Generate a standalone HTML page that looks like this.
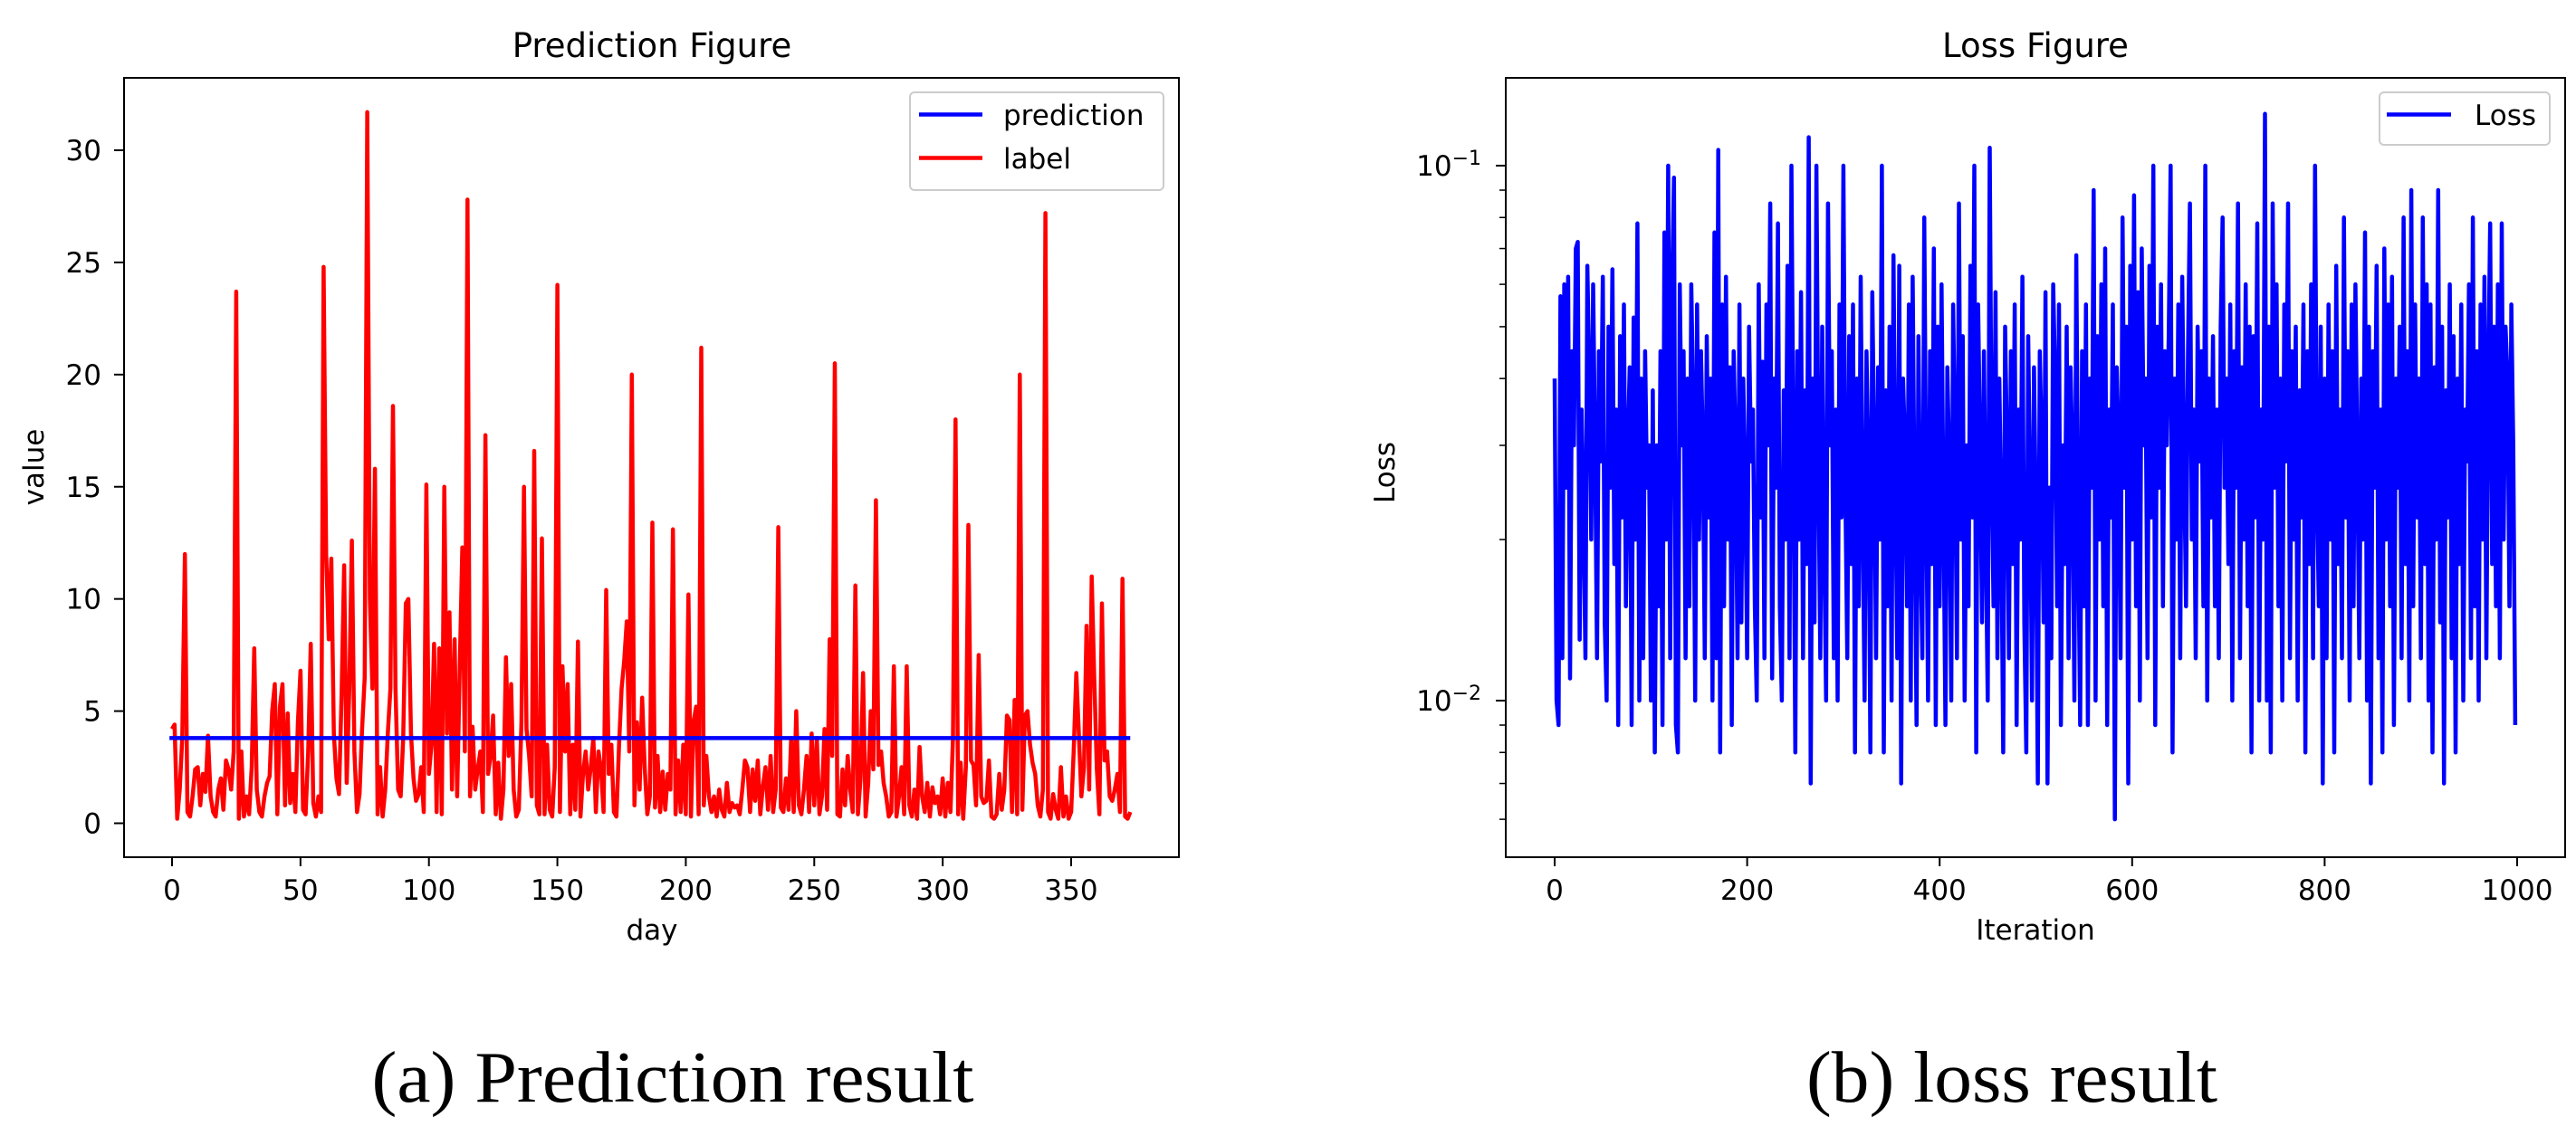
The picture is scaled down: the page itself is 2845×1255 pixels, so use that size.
<!DOCTYPE html>
<html><head><meta charset="utf-8"><style>
html,body{margin:0;padding:0;background:#fff;overflow:hidden;}
svg{display:block;}
text{font-family:"DejaVu Sans","Liberation Sans",sans-serif;fill:#000;}
.cap{font-family:"Liberation Serif",serif;font-size:80px;}
</style></head><body>
<svg id="fig" width="2845" height="1255" viewBox="0 0 2845 1255" xmlns="http://www.w3.org/2000/svg">
<g id="left"></g>
<g id="right"></g>
<text class="cap" x="743" y="1217" text-anchor="middle" textLength="665" lengthAdjust="spacingAndGlyphs">(a) Prediction result</text>
<text class="cap" x="2222" y="1217" text-anchor="middle" textLength="454" lengthAdjust="spacingAndGlyphs">(b) loss result</text>
</svg>
<script>
const labelValues = [4.2,4.4,0.2,1.5,3.8,12,0.5,0.3,1.2,2.4,2.5,0.8,2.2,1.4,3.9,1.2,0.5,0.3,1.5,2,
0.6,2.8,2.4,1.5,3.2,23.7,0.2,3.2,0.3,1.2,0.4,2.5,7.8,1.5,0.5,0.3,1.2,1.8,2.1,5,
6.2,0.4,5.2,6.2,0.8,4.9,0.9,2.2,0.5,4.5,6.8,0.6,0.4,3.2,8,0.9,0.3,1.2,0.5,24.8,
12,8.2,11.8,4,2,1.3,5.8,11.5,1.8,6,12.6,3.2,0.5,1.3,4.2,6.5,31.7,10,6,15.8,
0.4,2.5,0.3,1.5,4,6,18.6,6,1.5,1.2,3.8,9.8,10,4,2,1,1.3,2.5,0.5,15.1,
2.2,3.5,8,0.5,7.8,0.4,15,4,9.4,1.5,8.2,1.2,7,12.3,3.2,27.8,1.2,4.3,1.5,2.4,
3.2,0.5,17.3,2.2,3,4.8,0.4,2.7,0.2,1.5,7.4,3,6.2,1.5,0.3,0.6,4.5,15,4.2,3,
1.2,16.6,0.8,0.4,12.7,0.4,3.5,0.6,0.3,2.5,24,0.5,7,3.2,6.2,0.4,3.5,0.6,8.1,0.3,
2.2,3.2,1.5,2.5,3.8,0.5,3.2,2.4,0.5,10.4,2.2,3.5,0.5,0.3,3.5,6,7.2,9,3.2,20,
0.8,4.5,1.5,5.6,2.5,0.4,1.2,13.4,0.7,3,0.5,2.3,0.6,2.2,1.5,13.1,0.4,2.8,0.5,3.5,
0.4,10.2,0.3,4.5,5.2,0.4,21.2,0.8,3,1.2,0.5,1.2,0.3,1.5,0.6,0.3,1.8,0.5,0.9,0.7,
0.8,0.4,1.5,2.8,2.5,0.5,2.4,1,2.8,0.4,1.6,2.5,0.6,3,0.5,1.5,13.2,0.7,0.5,2,
0.6,3.8,0.5,5,0.8,0.4,1.5,3,0.5,4,0.8,3.8,0.4,1.2,4.2,0.6,8.2,3,20.5,0.4,
0.3,2.4,0.8,3,1.5,0.5,10.6,0.4,2,6.7,0.3,1.8,5,2.4,14.4,2.6,3.2,1.8,1.2,0.3,
0.5,7,0.3,1.2,2.5,0.4,7,0.8,0.3,1.5,0.2,3.4,1.2,0.5,1.8,0.3,1.6,0.9,1.2,0.4,
2,0.3,1.8,0.5,3.8,18,0.4,2.7,0.2,2.5,13.3,2.8,2.6,0.8,7.5,1.2,0.9,1,2.8,0.3,
0.2,0.4,2.2,0.6,1.5,4.8,4.6,0.5,5.5,0.4,20,0.6,4.8,5,3.5,2.7,2.2,0.8,0.3,1.5,
27.2,0.5,0.2,1.3,0.6,0.2,2.5,0.3,1.2,0.2,0.5,3.2,6.7,4,1.2,2.5,8.8,1.5,11,6.5,
2.4,0.4,9.8,2.8,3.2,1.2,1,1.5,2.2,0.5,10.9,0.3,0.2,0.5];
const predictionValue = 3.8;
const leftXTicks = [0,50,100,150,200,250,300,350];
const leftYTicks = [0,5,10,15,20,25,30];
const lossMilli = [40,10,9,57,12,60,25,62,11,45,30,70,72,13,35,22,12,65,40,20,60,30,12,45,28,
62,14,10,50,25,64,18,35,9,48,22,55,15,30,42,9,52,20,78,10,40,12,45,25,30,
10,38,8,30,15,45,9,75,20,100,12,60,95,9,8,60,30,45,12,40,15,60,35,10,55,
20,45,30,12,48,22,40,10,75,12,107,8,55,15,62,20,42,9,45,30,12,55,14,40,25,
12,50,28,35,15,10,60,22,43,12,55,30,85,11,40,25,78,15,10,38,20,65,12,100,30,
8,45,20,58,12,38,18,113,7,40,14,100,28,12,50,20,10,85,30,45,12,35,10,55,22,
100,25,12,48,18,55,8,40,15,62,22,10,45,28,8,58,30,12,42,20,100,8,38,15,50,
10,68,25,12,65,7,40,30,15,55,10,62,22,9,48,20,12,80,25,10,45,18,70,9,50,
15,60,22,9,42,28,10,55,30,12,85,20,48,10,30,15,65,22,100,8,55,30,14,45,20,
10,108,28,15,58,12,40,22,8,50,30,12,45,18,55,9,35,20,62,14,8,48,25,10,42,
22,7,45,30,14,58,7,25,12,60,40,15,55,9,30,18,50,12,42,28,10,68,20,9,45,
15,55,9,40,25,90,10,48,20,60,15,70,9,35,22,55,6,42,30,12,80,25,50,7,65,
20,88,15,58,10,70,30,40,12,65,22,100,9,50,25,60,15,45,30,48,100,8,40,20,55,
12,62,28,15,45,85,20,35,12,50,28,45,15,100,10,40,22,48,15,35,12,50,80,25,40,
18,55,10,45,25,85,12,42,20,60,15,50,8,48,22,78,10,35,20,125,10,50,8,85,25,
60,15,40,10,55,28,85,12,45,20,50,10,38,22,55,8,45,18,60,12,100,25,15,50,7,
40,12,55,20,45,8,65,18,35,12,80,22,45,10,55,15,60,28,12,40,20,75,10,50,7,
45,25,65,12,35,8,70,20,55,15,62,9,40,25,50,12,80,18,45,10,90,15,55,22,40,
12,80,18,60,10,55,8,42,20,90,14,50,7,38,22,60,12,48,8,40,18,55,10,35,28,
60,12,80,15,45,10,55,20,62,12,40,78,18,50,15,60,12,78,20,50,40,15,55,30,9];
const lossStep = 2;
const rightXTicks = [0,200,400,600,800,1000];
const rightYMajor = [-2,-1];

const NS='http://www.w3.org/2000/svg';
function mk(parent,tag,attrs,txt){const e=document.createElementNS(NS,tag);for(const k in attrs)e.setAttribute(k,attrs[k]);if(txt!==undefined)e.textContent=txt;parent.appendChild(e);return e;}
const FS=31, TFS=37, LW=4.5;
const TOP=86, BOT=947;

// ---- left chart ----
const L=document.getElementById('left');
const lx=d=>190+d*(993/350);
const ly=v=>909.5-v*(743.5/30);
let t=mk(L,'text',{x:720,y:63,'font-size':TFS,'text-anchor':'middle'},'Prediction Figure');


let pts=labelValues.map((v,i)=>lx(i).toFixed(1)+','+ly(v).toFixed(1)).join(' ');
let p=mk(L,'polyline',{points:pts,fill:'none',stroke:'#ff0000','stroke-width':LW,'stroke-linejoin':'round'});


p=mk(L,'line',{x1:lx(-1),x2:lx(labelValues.length-1),y1:ly(predictionValue),y2:ly(predictionValue),stroke:'#0000ff','stroke-width':LW});


let r=mk(L,'rect',{x:137,y:TOP,width:1165,height:BOT-TOP,fill:'none',stroke:'#000','stroke-width':2});


leftXTicks.forEach(v=>{const x=lx(v);mk(L,'line',{x1:x,x2:x,y1:BOT,y2:BOT+10,stroke:'#000','stroke-width':2});
 const tx=mk(L,'text',{x:x,y:994,'font-size':FS,'text-anchor':'middle'},String(v));
 
 });
leftYTicks.forEach(v=>{const y=ly(v);mk(L,'line',{x1:126,x2:137,y1:y,y2:y,stroke:'#000','stroke-width':2});
 const tx=mk(L,'text',{x:112,y:y+11,'font-size':FS,'text-anchor':'end'},String(v));
 
 });
t=mk(L,'text',{x:720,y:1038,'font-size':FS,'text-anchor':'middle'},'day');


t=mk(L,'text',{x:48,y:516,'font-size':FS,'text-anchor':'middle',transform:'rotate(-90 48 516)'},'value');


let lg=mk(L,'g',{});


mk(lg,'rect',{x:1005,y:102,width:280,height:108,rx:5,fill:'#fff','fill-opacity':0.8,stroke:'#ccc','stroke-width':2});
mk(lg,'line',{x1:1015,x2:1085,y1:126.5,y2:126.5,stroke:'#0000ff','stroke-width':LW});
mk(lg,'text',{x:1108,y:138,'font-size':FS},'prediction');
mk(lg,'line',{x1:1015,x2:1085,y1:174.5,y2:174.5,stroke:'#ff0000','stroke-width':LW});
mk(lg,'text',{x:1108,y:186,'font-size':FS},'label');

// ---- right chart ----
const R=document.getElementById('right');
const rx=i=>1717+i*(1063/1000);
const ry=v=>774-(Math.log10(v)+2)*591;
t=mk(R,'text',{x:2248,y:63,'font-size':TFS,'text-anchor':'middle'},'Loss Figure');


pts=lossMilli.map((v,i)=>rx(i*lossStep).toFixed(1)+','+ry(v/1000).toFixed(1)).join(' ');
p=mk(R,'polyline',{points:pts,fill:'none',stroke:'#0000ff','stroke-width':LW,'stroke-linejoin':'round'});


r=mk(R,'rect',{x:1663,y:TOP,width:1170,height:BOT-TOP,fill:'none',stroke:'#000','stroke-width':2});


rightXTicks.forEach(v=>{const x=rx(v);mk(R,'line',{x1:x,x2:x,y1:BOT,y2:BOT+10,stroke:'#000','stroke-width':2});
 const tx=mk(R,'text',{x:x,y:994,'font-size':FS,'text-anchor':'middle'},String(v));
 
 });
rightYMajor.forEach(e=>{const y=ry(Math.pow(10,e));mk(R,'line',{x1:1652,x2:1663,y1:y,y2:y,stroke:'#000','stroke-width':2});
 const tx=mk(R,'text',{x:1636,y:y+11,'font-size':FS,'text-anchor':'end'});
 
 
 mk(tx,'tspan',{},'10');mk(tx,'tspan',{dy:-12,'font-size':22},'\u2212'+(-e));});
[-3,-2,-1].forEach(e=>{for(let m=2;m<=9;m++){const y=ry(m*Math.pow(10,e));if(y<TOP||y>BOT)continue;
 mk(R,'line',{x1:1656,x2:1663,y1:y,y2:y,stroke:'#000','stroke-width':1.5});}});
t=mk(R,'text',{x:2248,y:1038,'font-size':FS,'text-anchor':'middle'},'Iteration');


t=mk(R,'text',{x:1540,y:522,'font-size':FS,'text-anchor':'middle',transform:'rotate(-90 1540 522)'},'Loss');


lg=mk(R,'g',{});


mk(lg,'rect',{x:2628,y:102,width:188,height:58,rx:5,fill:'#fff','fill-opacity':0.8,stroke:'#ccc','stroke-width':2});
mk(lg,'line',{x1:2636,x2:2707,y1:126.5,y2:126.5,stroke:'#0000ff','stroke-width':LW});
mk(lg,'text',{x:2733,y:138,'font-size':FS},'Loss');
</script>
</body></html>
